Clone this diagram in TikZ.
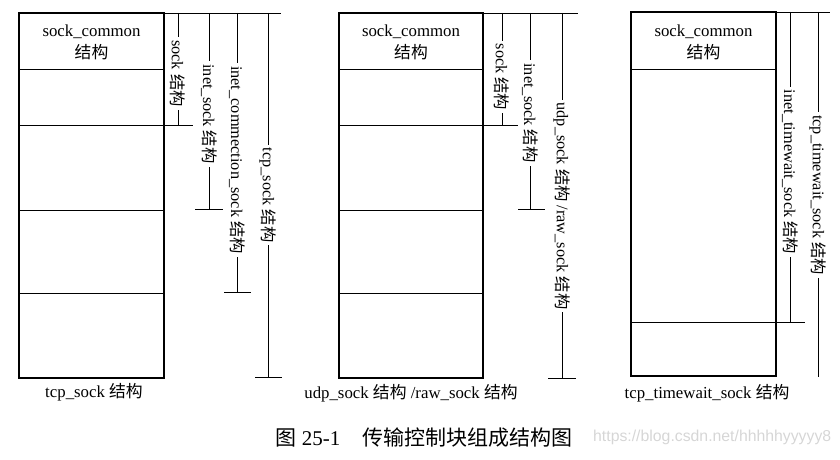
\documentclass[tikz,border=0pt]{standalone}
\usepackage{fontspec}
\setmainfont{Liberation Serif}
\newfontfamily\cjkf{Noto Sans CJK SC}
\newfontfamily\wmf{Liberation Sans}
\newcommand{\zh}[1]{{\cjkf #1}}
\begin{document}
\begin{tikzpicture}[x=1pt,y=-1pt,
  outer/.style={line width=1.6pt},
  inner/.style={line width=1pt},
  dimline/.style={line width=0.9pt},
  vlab/.style={rotate=-90, fill=white, inner sep=3pt, font=\fontsize{16.3}{18}\selectfont},
  lab/.style={font=\fontsize{16.8}{18}\selectfont, inner sep=0pt},
  captext/.style={font=\fontsize{21}{23}\selectfont, inner sep=0pt},
  wm/.style={font=\wmf\fontsize{15.8}{17}\selectfont, text=black!16, inner sep=0pt, anchor=west}
]
\useasboundingbox (0,0) rectangle (840,460);

% ---------- box 1: tcp_sock ----------
\draw[inner] (19,69) -- (164,69);
\draw[inner] (19,125) -- (193,125);
\draw[inner] (19,210) -- (164,210);
\draw[inner] (19,293) -- (164,293);
\draw[outer] (19,13) rectangle (164,378);
\draw[dimline] (164,13) -- (281,13);
\coordinate (a1t) at (178,13); \coordinate (a1b) at (178,125);
\coordinate (a2t) at (209,13); \coordinate (a2b) at (209,209);
\coordinate (a3t) at (237,13); \coordinate (a3b) at (237,292);
\coordinate (a4t) at (268,13); \coordinate (a4b) at (268,377);
\draw[dimline] (a1t) -- (a1b);
\draw[dimline] (a2t) -- (a2b); \draw[dimline] (195,209) -- (223,209);
\draw[dimline] (a3t) -- (a3b); \draw[dimline] (224,292) -- (251,292);
\draw[dimline] (a4t) -- (a4b); \draw[dimline] (255,377) -- (282,377);
\node[vlab] (l11) at (178,73.5) {sock \zh{结构}};
\node[vlab] (l12) at (209,114) {inet\_sock \zh{结构}};
\node[vlab] (l13) at (237,160) {inet\_commection\_sock \zh{结构}};
\node[vlab] (l14) at (268,195) {tcp\_sock \zh{结构}};
\node[lab] (c1a) at (91.5,32) {sock\_common};
\node[lab] (c1b) at (91.5,52) {\zh{结构}};
\node[lab] (t1) at (94,392) {tcp\_sock \zh{结构}};

% ---------- box 2: udp_sock / raw_sock ----------
\draw[inner] (339,69) -- (483,69);
\draw[inner] (339,125) -- (518,125);
\draw[inner] (339,210) -- (483,210);
\draw[inner] (339,293) -- (483,293);
\draw[outer] (339,13) rectangle (483,378);
\draw[dimline] (483,13) -- (578,13);
\coordinate (b1t) at (502,13); \coordinate (b1b) at (502,125);
\coordinate (b2t) at (530,13); \coordinate (b2b) at (530,209);
\coordinate (b3t) at (562,13); \coordinate (b3b) at (562,378);
\draw[dimline] (b1t) -- (b1b);
\draw[dimline] (b2t) -- (b2b); \draw[dimline] (518,209) -- (545,209);
\draw[dimline] (b3t) -- (b3b); \draw[dimline] (548,378) -- (576,378);
\node[vlab] (l21) at (502,77) {sock \zh{结构}};
\node[vlab] (l22) at (530,113) {inet\_sock \zh{结构}};
\node[vlab] (l23) at (562,206) {udp\_sock \zh{结构} /raw\_sock \zh{结构}};
\node[lab] (c2a) at (411,32) {sock\_common};
\node[lab] (c2b) at (411,52) {\zh{结构}};
\node[lab] (t2) at (411,393) {udp\_sock \zh{结构} /raw\_sock \zh{结构}};

% ---------- box 3: tcp_timewait_sock ----------
\draw[inner] (631,69) -- (776,69);
\draw[inner] (631,322) -- (805,322);
\draw[outer] (631,12) rectangle (776,376);
\draw[dimline] (776,12) -- (830,12);
\coordinate (c1t) at (790,12); \coordinate (c1b) at (790,322);
\coordinate (c2t) at (818,12); \coordinate (c2b) at (818,377);
\draw[dimline] (c1t) -- (c1b);
\draw[dimline] (c2t) -- (c2b);
\node[vlab] (l31) at (790,172) {inet\_timewait\_sock \zh{结构}};
\node[vlab] (l32) at (818,195) {tcp\_timewait\_sock \zh{结构}};
\node[lab] (c3a) at (703.5,32) {sock\_common};
\node[lab] (c3b) at (703.5,52) {\zh{结构}};
\node[lab] (t3) at (707,393) {tcp\_timewait\_sock \zh{结构}};

% ---------- caption ----------
\node[captext] (caption) at (424,438) {\zh{图} 25-1\hspace{22pt}\zh{传输控制块组成结构图}};
\node[wm] (wmark) at (593,437) {https://blog.csdn.net/hhhhhyyyyy8};
\end{tikzpicture}
\end{document}
